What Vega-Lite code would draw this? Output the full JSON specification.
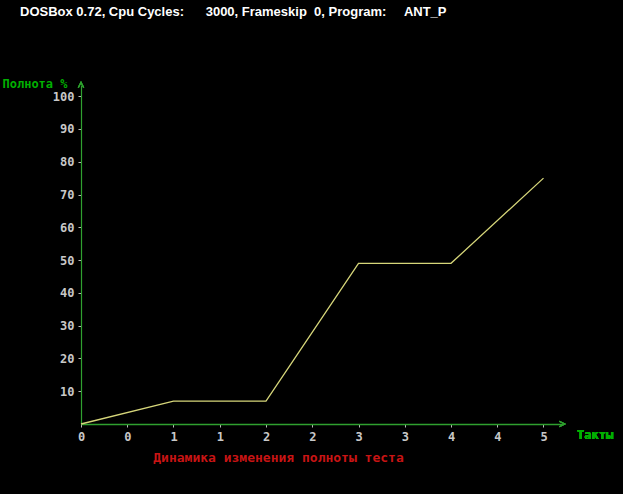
{
  "$schema": "https://vega.github.io/schema/vega-lite/v6.json",
  "autosize": "none",
  "width": 481,
  "height": 339,
  "padding": {"left": 81, "top": 85, "right": 61, "bottom": 70},
  "background": "#000000",
  "title": {
    "text": "DOSBox 0.72, Cpu Cycles:\u00a0\u00a0\u00a0\u00a0\u00a0 3000, Frameskip\u00a0 0, Program:\u00a0\u00a0\u00a0\u00a0 ANT_P",
    "anchor": "start",
    "orient": "top",
    "frame": "group",
    "dx": -61,
    "offset": 58,
    "font": "Liberation Sans",
    "fontSize": 13,
    "fontWeight": "bold",
    "color": "#FFFFFF"
  },
  "config": {
    "view": {"stroke": null},
    "axis": {"grid": false}
  },
  "data": {
    "values": [
      {"takt": 0, "polnota": 0},
      {"takt": 1, "polnota": 7},
      {"takt": 2, "polnota": 7},
      {"takt": 3, "polnota": 49},
      {"takt": 4, "polnota": 49},
      {"takt": 5, "polnota": 75}
    ]
  },
  "layer": [
    {
      "mark": {"type": "line", "color": "#D6D67A", "strokeWidth": 1.3},
      "encoding": {
        "x": {
          "field": "takt",
          "type": "quantitative",
          "scale": {"domain": [0, 5.2], "nice": false, "zero": false},
          "axis": {
            "values": [0, 0.5, 1, 1.5, 2, 2.5, 3, 3.5, 4, 4.5, 5],
            "tickCount": 30,
            "labelExpr": "'' + floor(datum.value)",
            "labelOverlap": false,
            "domainColor": "#2FA02F",
            "domainWidth": 1.5,
            "tickColor": "#BBBBBB",
            "tickSize": 3,
            "labelPadding": 4,
            "labelColor": "#C8C8C8",
            "labelFont": "DejaVu Sans Mono",
            "labelFontSize": 12,
            "labelFontWeight": "bold",
            "labelFlush": false,
            "title": "Динамика изменения полноты теста",
            "titleColor": "#C81414",
            "titleFont": "DejaVu Sans Mono",
            "titleFontSize": 13,
            "titleFontWeight": "bold",
            "titleX": 197,
            "titleY": 33,
            "titleAlign": "center",
            "titleBaseline": "middle"
          }
        },
        "y": {
          "field": "polnota",
          "type": "quantitative",
          "scale": {"domain": [0, 103.4], "nice": false},
          "axis": {
            "values": [10, 20, 30, 40, 50, 60, 70, 80, 90, 100],
            "tickCount": 30,
            "labelOverlap": false,
            "labelFlush": false,
            "domainColor": "#2FA02F",
            "domainWidth": 1.2,
            "tickColor": "#BBBBBB",
            "tickSize": 3,
            "labelPadding": 4,
            "labelColor": "#C8C8C8",
            "labelFont": "DejaVu Sans Mono",
            "labelFontSize": 12,
            "labelFontWeight": "bold",
            "title": "Полнота %",
            "titleColor": "#00B000",
            "titleFont": "DejaVu Sans Mono",
            "titleFontSize": 12,
            "titleFontWeight": "bold",
            "titleAngle": 0,
            "titleAlign": "left",
            "titleBaseline": "middle",
            "titleX": -79,
            "titleY": -2
          }
        }
      }
    },
    {
      "mark": {"type": "point", "shape": "M-1,1L0,-1L1,1", "filled": false, "stroke": "#2FA02F", "strokeWidth": 1.2, "size": 30},
      "encoding": {
        "x": {"datum": 0, "type": "quantitative"},
        "y": {"datum": 103.4, "type": "quantitative"}
      }
    },
    {
      "mark": {"type": "point", "shape": "M-1,-1L1,0L-1,1", "filled": false, "stroke": "#2FA02F", "strokeWidth": 1.2, "size": 30},
      "encoding": {
        "x": {"datum": 5.2, "type": "quantitative"},
        "y": {"datum": 0, "type": "quantitative"}
      }
    },
    {
      "mark": {"type": "text", "text": "Такты", "align": "left", "baseline": "middle", "dx": 15, "dy": 11, "color": "#00B000", "font": "DejaVu Sans Mono", "fontSize": 12, "fontWeight": "bold"},
      "encoding": {
        "x": {"datum": 5.2, "type": "quantitative"},
        "y": {"datum": 0, "type": "quantitative"}
      }
    }
  ]
}
